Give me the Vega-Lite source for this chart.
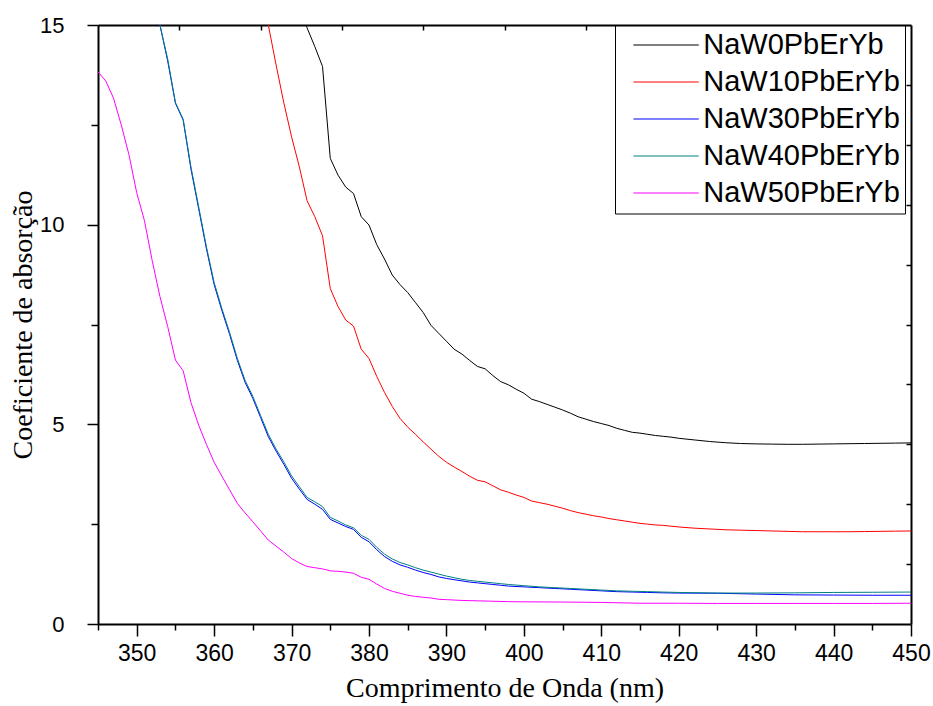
{
  "$schema": "https://vega.github.io/schema/vega-lite/v6.json",
  "width": 813,
  "height": 599,
  "autosize": {"type": "none"},
  "padding": {"left": 98, "top": 25, "right": 22, "bottom": 82},
  "background": "white",
  "config": {
    "view": {"stroke": null},
    "axis": {"grid": false, "domainColor": "black", "tickColor": "black", "labelColor": "black", "titleColor": "black", "domainWidth": 2, "tickWidth": 1.5}
  },
  "datasets": {
    "curvas": [
      {"serie":"NaW0PbErYb","nm":371,"coef":15.5},{"serie":"NaW0PbErYb","nm":372,"coef":14.93},{"serie":"NaW0PbErYb","nm":373,"coef":14.46},{"serie":"NaW0PbErYb","nm":374,"coef":13.96},{"serie":"NaW0PbErYb","nm":375,"coef":11.66},{"serie":"NaW0PbErYb","nm":376,"coef":11.24},{"serie":"NaW0PbErYb","nm":377,"coef":10.94},{"serie":"NaW0PbErYb","nm":378,"coef":10.78},{"serie":"NaW0PbErYb","nm":379,"coef":10.2},{"serie":"NaW0PbErYb","nm":380,"coef":9.99},{"serie":"NaW0PbErYb","nm":381,"coef":9.5},{"serie":"NaW0PbErYb","nm":382,"coef":9.14},{"serie":"NaW0PbErYb","nm":383,"coef":8.74},{"serie":"NaW0PbErYb","nm":384,"coef":8.5},{"serie":"NaW0PbErYb","nm":385,"coef":8.3},{"serie":"NaW0PbErYb","nm":386,"coef":8.05},{"serie":"NaW0PbErYb","nm":387,"coef":7.8},{"serie":"NaW0PbErYb","nm":388,"coef":7.48},{"serie":"NaW0PbErYb","nm":389,"coef":7.28},{"serie":"NaW0PbErYb","nm":390,"coef":7.08},{"serie":"NaW0PbErYb","nm":391,"coef":6.88},{"serie":"NaW0PbErYb","nm":392,"coef":6.76},{"serie":"NaW0PbErYb","nm":393,"coef":6.6},{"serie":"NaW0PbErYb","nm":394,"coef":6.45},{"serie":"NaW0PbErYb","nm":395,"coef":6.39},{"serie":"NaW0PbErYb","nm":396,"coef":6.22},{"serie":"NaW0PbErYb","nm":397,"coef":6.07},{"serie":"NaW0PbErYb","nm":398,"coef":5.99},{"serie":"NaW0PbErYb","nm":399,"coef":5.88},{"serie":"NaW0PbErYb","nm":400,"coef":5.78},{"serie":"NaW0PbErYb","nm":401,"coef":5.63},{"serie":"NaW0PbErYb","nm":402,"coef":5.57},{"serie":"NaW0PbErYb","nm":403,"coef":5.5},{"serie":"NaW0PbErYb","nm":404,"coef":5.43},{"serie":"NaW0PbErYb","nm":405,"coef":5.36},{"serie":"NaW0PbErYb","nm":406,"coef":5.28},{"serie":"NaW0PbErYb","nm":407,"coef":5.19},{"serie":"NaW0PbErYb","nm":408,"coef":5.13},{"serie":"NaW0PbErYb","nm":409,"coef":5.07},{"serie":"NaW0PbErYb","nm":410,"coef":5.02},{"serie":"NaW0PbErYb","nm":411,"coef":4.97},{"serie":"NaW0PbErYb","nm":412,"coef":4.9},{"serie":"NaW0PbErYb","nm":413,"coef":4.85},{"serie":"NaW0PbErYb","nm":414,"coef":4.8},{"serie":"NaW0PbErYb","nm":415,"coef":4.78},{"serie":"NaW0PbErYb","nm":416,"coef":4.75},{"serie":"NaW0PbErYb","nm":417,"coef":4.72},{"serie":"NaW0PbErYb","nm":418,"coef":4.7},{"serie":"NaW0PbErYb","nm":419,"coef":4.68},{"serie":"NaW0PbErYb","nm":420,"coef":4.65},{"serie":"NaW0PbErYb","nm":422,"coef":4.61},{"serie":"NaW0PbErYb","nm":424,"coef":4.57},{"serie":"NaW0PbErYb","nm":426,"coef":4.54},{"serie":"NaW0PbErYb","nm":428,"coef":4.52},{"serie":"NaW0PbErYb","nm":430,"coef":4.51},{"serie":"NaW0PbErYb","nm":432,"coef":4.505},{"serie":"NaW0PbErYb","nm":434,"coef":4.5},{"serie":"NaW0PbErYb","nm":436,"coef":4.5},{"serie":"NaW0PbErYb","nm":438,"coef":4.505},{"serie":"NaW0PbErYb","nm":440,"coef":4.51},{"serie":"NaW0PbErYb","nm":442,"coef":4.515},{"serie":"NaW0PbErYb","nm":444,"coef":4.52},{"serie":"NaW0PbErYb","nm":446,"coef":4.525},{"serie":"NaW0PbErYb","nm":448,"coef":4.53},{"serie":"NaW0PbErYb","nm":450,"coef":4.535},

      {"serie":"NaW10PbErYb","nm":366,"coef":15.6},{"serie":"NaW10PbErYb","nm":367,"coef":15.0},{"serie":"NaW10PbErYb","nm":368,"coef":14.0},{"serie":"NaW10PbErYb","nm":369,"coef":13.05},{"serie":"NaW10PbErYb","nm":370,"coef":12.2},{"serie":"NaW10PbErYb","nm":371,"coef":11.45},{"serie":"NaW10PbErYb","nm":372,"coef":10.6},{"serie":"NaW10PbErYb","nm":373,"coef":10.2},{"serie":"NaW10PbErYb","nm":374,"coef":9.72},{"serie":"NaW10PbErYb","nm":375,"coef":8.4},{"serie":"NaW10PbErYb","nm":376,"coef":7.95},{"serie":"NaW10PbErYb","nm":377,"coef":7.61},{"serie":"NaW10PbErYb","nm":378,"coef":7.46},{"serie":"NaW10PbErYb","nm":379,"coef":6.88},{"serie":"NaW10PbErYb","nm":380,"coef":6.65},{"serie":"NaW10PbErYb","nm":381,"coef":6.2},{"serie":"NaW10PbErYb","nm":382,"coef":5.8},{"serie":"NaW10PbErYb","nm":383,"coef":5.45},{"serie":"NaW10PbErYb","nm":384,"coef":5.15},{"serie":"NaW10PbErYb","nm":385,"coef":4.93},{"serie":"NaW10PbErYb","nm":386,"coef":4.75},{"serie":"NaW10PbErYb","nm":387,"coef":4.56},{"serie":"NaW10PbErYb","nm":388,"coef":4.38},{"serie":"NaW10PbErYb","nm":389,"coef":4.2},{"serie":"NaW10PbErYb","nm":390,"coef":4.05},{"serie":"NaW10PbErYb","nm":391,"coef":3.93},{"serie":"NaW10PbErYb","nm":392,"coef":3.82},{"serie":"NaW10PbErYb","nm":393,"coef":3.7},{"serie":"NaW10PbErYb","nm":394,"coef":3.6},{"serie":"NaW10PbErYb","nm":395,"coef":3.56},{"serie":"NaW10PbErYb","nm":396,"coef":3.46},{"serie":"NaW10PbErYb","nm":397,"coef":3.36},{"serie":"NaW10PbErYb","nm":398,"coef":3.3},{"serie":"NaW10PbErYb","nm":399,"coef":3.23},{"serie":"NaW10PbErYb","nm":400,"coef":3.17},{"serie":"NaW10PbErYb","nm":401,"coef":3.08},{"serie":"NaW10PbErYb","nm":402,"coef":3.04},{"serie":"NaW10PbErYb","nm":403,"coef":3.0},{"serie":"NaW10PbErYb","nm":404,"coef":2.95},{"serie":"NaW10PbErYb","nm":405,"coef":2.9},{"serie":"NaW10PbErYb","nm":406,"coef":2.84},{"serie":"NaW10PbErYb","nm":407,"coef":2.79},{"serie":"NaW10PbErYb","nm":408,"coef":2.75},{"serie":"NaW10PbErYb","nm":409,"coef":2.71},{"serie":"NaW10PbErYb","nm":410,"coef":2.68},{"serie":"NaW10PbErYb","nm":411,"coef":2.64},{"serie":"NaW10PbErYb","nm":412,"coef":2.61},{"serie":"NaW10PbErYb","nm":413,"coef":2.58},{"serie":"NaW10PbErYb","nm":414,"coef":2.55},{"serie":"NaW10PbErYb","nm":415,"coef":2.52},{"serie":"NaW10PbErYb","nm":416,"coef":2.5},{"serie":"NaW10PbErYb","nm":417,"coef":2.48},{"serie":"NaW10PbErYb","nm":418,"coef":2.47},{"serie":"NaW10PbErYb","nm":419,"coef":2.45},{"serie":"NaW10PbErYb","nm":420,"coef":2.43},{"serie":"NaW10PbErYb","nm":422,"coef":2.4},{"serie":"NaW10PbErYb","nm":424,"coef":2.38},{"serie":"NaW10PbErYb","nm":426,"coef":2.36},{"serie":"NaW10PbErYb","nm":428,"coef":2.35},{"serie":"NaW10PbErYb","nm":430,"coef":2.34},{"serie":"NaW10PbErYb","nm":432,"coef":2.33},{"serie":"NaW10PbErYb","nm":434,"coef":2.32},{"serie":"NaW10PbErYb","nm":436,"coef":2.31},{"serie":"NaW10PbErYb","nm":438,"coef":2.31},{"serie":"NaW10PbErYb","nm":440,"coef":2.31},{"serie":"NaW10PbErYb","nm":442,"coef":2.31},{"serie":"NaW10PbErYb","nm":444,"coef":2.315},{"serie":"NaW10PbErYb","nm":446,"coef":2.32},{"serie":"NaW10PbErYb","nm":448,"coef":2.325},{"serie":"NaW10PbErYb","nm":450,"coef":2.33},

      {"serie":"NaW30PbErYb","nm":352,"coef":16.0},{"serie":"NaW30PbErYb","nm":353,"coef":15.0},{"serie":"NaW30PbErYb","nm":354,"coef":14.1},{"serie":"NaW30PbErYb","nm":355,"coef":13.04},{"serie":"NaW30PbErYb","nm":356,"coef":12.62},{"serie":"NaW30PbErYb","nm":357,"coef":11.4},{"serie":"NaW30PbErYb","nm":358,"coef":10.4},{"serie":"NaW30PbErYb","nm":359,"coef":9.4},{"serie":"NaW30PbErYb","nm":360,"coef":8.5},{"serie":"NaW30PbErYb","nm":361,"coef":7.85},{"serie":"NaW30PbErYb","nm":362,"coef":7.25},{"serie":"NaW30PbErYb","nm":363,"coef":6.6},{"serie":"NaW30PbErYb","nm":364,"coef":6.05},{"serie":"NaW30PbErYb","nm":365,"coef":5.65},{"serie":"NaW30PbErYb","nm":366,"coef":5.17},{"serie":"NaW30PbErYb","nm":367,"coef":4.69},{"serie":"NaW30PbErYb","nm":368,"coef":4.33},{"serie":"NaW30PbErYb","nm":369,"coef":4.0},{"serie":"NaW30PbErYb","nm":370,"coef":3.65},{"serie":"NaW30PbErYb","nm":371,"coef":3.38},{"serie":"NaW30PbErYb","nm":372,"coef":3.12},{"serie":"NaW30PbErYb","nm":373,"coef":3.0},{"serie":"NaW30PbErYb","nm":374,"coef":2.87},{"serie":"NaW30PbErYb","nm":375,"coef":2.62},{"serie":"NaW30PbErYb","nm":376,"coef":2.53},{"serie":"NaW30PbErYb","nm":377,"coef":2.44},{"serie":"NaW30PbErYb","nm":378,"coef":2.37},{"serie":"NaW30PbErYb","nm":379,"coef":2.17},{"serie":"NaW30PbErYb","nm":380,"coef":2.06},{"serie":"NaW30PbErYb","nm":381,"coef":1.86},{"serie":"NaW30PbErYb","nm":382,"coef":1.69},{"serie":"NaW30PbErYb","nm":383,"coef":1.57},{"serie":"NaW30PbErYb","nm":384,"coef":1.48},{"serie":"NaW30PbErYb","nm":385,"coef":1.42},{"serie":"NaW30PbErYb","nm":386,"coef":1.35},{"serie":"NaW30PbErYb","nm":387,"coef":1.29},{"serie":"NaW30PbErYb","nm":388,"coef":1.24},{"serie":"NaW30PbErYb","nm":389,"coef":1.18},{"serie":"NaW30PbErYb","nm":390,"coef":1.14},{"serie":"NaW30PbErYb","nm":391,"coef":1.11},{"serie":"NaW30PbErYb","nm":392,"coef":1.08},{"serie":"NaW30PbErYb","nm":393,"coef":1.05},{"serie":"NaW30PbErYb","nm":394,"coef":1.03},{"serie":"NaW30PbErYb","nm":395,"coef":1.01},{"serie":"NaW30PbErYb","nm":396,"coef":0.99},{"serie":"NaW30PbErYb","nm":397,"coef":0.97},{"serie":"NaW30PbErYb","nm":398,"coef":0.95},{"serie":"NaW30PbErYb","nm":400,"coef":0.93},{"serie":"NaW30PbErYb","nm":402,"coef":0.91},{"serie":"NaW30PbErYb","nm":404,"coef":0.89},{"serie":"NaW30PbErYb","nm":406,"coef":0.87},{"serie":"NaW30PbErYb","nm":408,"coef":0.85},{"serie":"NaW30PbErYb","nm":410,"coef":0.83},{"serie":"NaW30PbErYb","nm":412,"coef":0.81},{"serie":"NaW30PbErYb","nm":414,"coef":0.8},{"serie":"NaW30PbErYb","nm":416,"coef":0.79},{"serie":"NaW30PbErYb","nm":418,"coef":0.78},{"serie":"NaW30PbErYb","nm":420,"coef":0.775},{"serie":"NaW30PbErYb","nm":425,"coef":0.77},{"serie":"NaW30PbErYb","nm":430,"coef":0.75},{"serie":"NaW30PbErYb","nm":435,"coef":0.73},{"serie":"NaW30PbErYb","nm":440,"coef":0.725},{"serie":"NaW30PbErYb","nm":445,"coef":0.72},{"serie":"NaW30PbErYb","nm":450,"coef":0.72},

      {"serie":"NaW40PbErYb","nm":352,"coef":16.0},{"serie":"NaW40PbErYb","nm":353,"coef":15.0},{"serie":"NaW40PbErYb","nm":354,"coef":14.15},{"serie":"NaW40PbErYb","nm":355,"coef":13.06},{"serie":"NaW40PbErYb","nm":356,"coef":12.64},{"serie":"NaW40PbErYb","nm":357,"coef":11.45},{"serie":"NaW40PbErYb","nm":358,"coef":10.45},{"serie":"NaW40PbErYb","nm":359,"coef":9.45},{"serie":"NaW40PbErYb","nm":360,"coef":8.55},{"serie":"NaW40PbErYb","nm":361,"coef":7.9},{"serie":"NaW40PbErYb","nm":362,"coef":7.3},{"serie":"NaW40PbErYb","nm":363,"coef":6.65},{"serie":"NaW40PbErYb","nm":364,"coef":6.1},{"serie":"NaW40PbErYb","nm":365,"coef":5.7},{"serie":"NaW40PbErYb","nm":366,"coef":5.22},{"serie":"NaW40PbErYb","nm":367,"coef":4.75},{"serie":"NaW40PbErYb","nm":368,"coef":4.38},{"serie":"NaW40PbErYb","nm":369,"coef":4.06},{"serie":"NaW40PbErYb","nm":370,"coef":3.71},{"serie":"NaW40PbErYb","nm":371,"coef":3.44},{"serie":"NaW40PbErYb","nm":372,"coef":3.17},{"serie":"NaW40PbErYb","nm":373,"coef":3.06},{"serie":"NaW40PbErYb","nm":374,"coef":2.94},{"serie":"NaW40PbErYb","nm":375,"coef":2.67},{"serie":"NaW40PbErYb","nm":376,"coef":2.58},{"serie":"NaW40PbErYb","nm":377,"coef":2.48},{"serie":"NaW40PbErYb","nm":378,"coef":2.41},{"serie":"NaW40PbErYb","nm":379,"coef":2.22},{"serie":"NaW40PbErYb","nm":380,"coef":2.12},{"serie":"NaW40PbErYb","nm":381,"coef":1.92},{"serie":"NaW40PbErYb","nm":382,"coef":1.75},{"serie":"NaW40PbErYb","nm":383,"coef":1.63},{"serie":"NaW40PbErYb","nm":384,"coef":1.54},{"serie":"NaW40PbErYb","nm":385,"coef":1.48},{"serie":"NaW40PbErYb","nm":386,"coef":1.41},{"serie":"NaW40PbErYb","nm":387,"coef":1.35},{"serie":"NaW40PbErYb","nm":388,"coef":1.3},{"serie":"NaW40PbErYb","nm":389,"coef":1.25},{"serie":"NaW40PbErYb","nm":390,"coef":1.2},{"serie":"NaW40PbErYb","nm":391,"coef":1.16},{"serie":"NaW40PbErYb","nm":392,"coef":1.12},{"serie":"NaW40PbErYb","nm":393,"coef":1.09},{"serie":"NaW40PbErYb","nm":394,"coef":1.07},{"serie":"NaW40PbErYb","nm":395,"coef":1.05},{"serie":"NaW40PbErYb","nm":396,"coef":1.03},{"serie":"NaW40PbErYb","nm":397,"coef":1.01},{"serie":"NaW40PbErYb","nm":398,"coef":0.99},{"serie":"NaW40PbErYb","nm":400,"coef":0.96},{"serie":"NaW40PbErYb","nm":402,"coef":0.93},{"serie":"NaW40PbErYb","nm":404,"coef":0.91},{"serie":"NaW40PbErYb","nm":406,"coef":0.89},{"serie":"NaW40PbErYb","nm":408,"coef":0.87},{"serie":"NaW40PbErYb","nm":410,"coef":0.85},{"serie":"NaW40PbErYb","nm":412,"coef":0.83},{"serie":"NaW40PbErYb","nm":414,"coef":0.82},{"serie":"NaW40PbErYb","nm":416,"coef":0.81},{"serie":"NaW40PbErYb","nm":418,"coef":0.8},{"serie":"NaW40PbErYb","nm":420,"coef":0.79},{"serie":"NaW40PbErYb","nm":425,"coef":0.775},{"serie":"NaW40PbErYb","nm":430,"coef":0.775},{"serie":"NaW40PbErYb","nm":435,"coef":0.78},{"serie":"NaW40PbErYb","nm":440,"coef":0.79},{"serie":"NaW40PbErYb","nm":445,"coef":0.795},{"serie":"NaW40PbErYb","nm":450,"coef":0.8},

      {"serie":"NaW50PbErYb","nm":345,"coef":13.83},{"serie":"NaW50PbErYb","nm":346,"coef":13.6},{"serie":"NaW50PbErYb","nm":347,"coef":13.17},{"serie":"NaW50PbErYb","nm":348,"coef":12.5},{"serie":"NaW50PbErYb","nm":349,"coef":11.75},{"serie":"NaW50PbErYb","nm":350,"coef":10.8},{"serie":"NaW50PbErYb","nm":351,"coef":10.1},{"serie":"NaW50PbErYb","nm":352,"coef":9.1},{"serie":"NaW50PbErYb","nm":353,"coef":8.2},{"serie":"NaW50PbErYb","nm":354,"coef":7.45},{"serie":"NaW50PbErYb","nm":355,"coef":6.61},{"serie":"NaW50PbErYb","nm":356,"coef":6.34},{"serie":"NaW50PbErYb","nm":357,"coef":5.55},{"serie":"NaW50PbErYb","nm":358,"coef":4.98},{"serie":"NaW50PbErYb","nm":359,"coef":4.5},{"serie":"NaW50PbErYb","nm":360,"coef":4.05},{"serie":"NaW50PbErYb","nm":361,"coef":3.7},{"serie":"NaW50PbErYb","nm":362,"coef":3.36},{"serie":"NaW50PbErYb","nm":363,"coef":3.02},{"serie":"NaW50PbErYb","nm":364,"coef":2.78},{"serie":"NaW50PbErYb","nm":365,"coef":2.56},{"serie":"NaW50PbErYb","nm":366,"coef":2.33},{"serie":"NaW50PbErYb","nm":367,"coef":2.1},{"serie":"NaW50PbErYb","nm":368,"coef":1.95},{"serie":"NaW50PbErYb","nm":369,"coef":1.8},{"serie":"NaW50PbErYb","nm":370,"coef":1.64},{"serie":"NaW50PbErYb","nm":371,"coef":1.53},{"serie":"NaW50PbErYb","nm":372,"coef":1.44},{"serie":"NaW50PbErYb","nm":373,"coef":1.41},{"serie":"NaW50PbErYb","nm":374,"coef":1.38},{"serie":"NaW50PbErYb","nm":375,"coef":1.33},{"serie":"NaW50PbErYb","nm":376,"coef":1.32},{"serie":"NaW50PbErYb","nm":377,"coef":1.3},{"serie":"NaW50PbErYb","nm":378,"coef":1.27},{"serie":"NaW50PbErYb","nm":379,"coef":1.17},{"serie":"NaW50PbErYb","nm":380,"coef":1.12},{"serie":"NaW50PbErYb","nm":381,"coef":1.0},{"serie":"NaW50PbErYb","nm":382,"coef":0.89},{"serie":"NaW50PbErYb","nm":383,"coef":0.82},{"serie":"NaW50PbErYb","nm":384,"coef":0.77},{"serie":"NaW50PbErYb","nm":385,"coef":0.72},{"serie":"NaW50PbErYb","nm":386,"coef":0.69},{"serie":"NaW50PbErYb","nm":387,"coef":0.67},{"serie":"NaW50PbErYb","nm":388,"coef":0.65},{"serie":"NaW50PbErYb","nm":389,"coef":0.62},{"serie":"NaW50PbErYb","nm":390,"coef":0.61},{"serie":"NaW50PbErYb","nm":392,"coef":0.59},{"serie":"NaW50PbErYb","nm":394,"coef":0.58},{"serie":"NaW50PbErYb","nm":396,"coef":0.57},{"serie":"NaW50PbErYb","nm":398,"coef":0.56},{"serie":"NaW50PbErYb","nm":400,"coef":0.555},{"serie":"NaW50PbErYb","nm":405,"coef":0.55},{"serie":"NaW50PbErYb","nm":410,"coef":0.54},{"serie":"NaW50PbErYb","nm":415,"coef":0.52},{"serie":"NaW50PbErYb","nm":420,"coef":0.52},{"serie":"NaW50PbErYb","nm":425,"coef":0.515},{"serie":"NaW50PbErYb","nm":430,"coef":0.515},{"serie":"NaW50PbErYb","nm":435,"coef":0.515},{"serie":"NaW50PbErYb","nm":440,"coef":0.515},{"serie":"NaW50PbErYb","nm":445,"coef":0.515},{"serie":"NaW50PbErYb","nm":450,"coef":0.52}
    ],
    "moldura": [{"nm": 345, "coef": 0}]
  },
  "layer": [
    {
      "data": {"name": "curvas"},
      "mark": {"type": "line", "clip": true, "strokeWidth": 1},
      "encoding": {
        "x": {
          "field": "nm", "type": "quantitative",
          "scale": {"domain": [345, 450], "nice": false, "zero": false},
          "axis": {
            "orient": "bottom",
            "title": "Comprimento de Onda (nm)",
            "titleFont": "Liberation Serif", "titleFontSize": 28, "titleFontWeight": "normal", "titlePadding": 9,
            "values": [345,350,355,360,365,370,375,380,385,390,395,400,405,410,415,420,425,430,435,440,445,450],
            "labelExpr": "datum.value % 10 === 0 ? datum.label : ''",
            "labelFont": "Liberation Sans", "labelFontSize": 23, "labelPadding": 6,
            "tickSize": {"condition": {"test": "datum.value % 10 === 0", "value": 12}, "value": 6},
            "labelFlush": false, "labelOverlap": false
          }
        },
        "y": {
          "field": "coef", "type": "quantitative",
          "scale": {"domain": [0, 15], "nice": false},
          "axis": {
            "orient": "left",
            "title": "Coeficiente de absorção",
            "titleFont": "Liberation Serif", "titleFontSize": 28, "titleFontWeight": "normal", "titlePadding": 2,
            "values": [0,2.5,5,7.5,10,12.5,15],
            "labelExpr": "datum.value % 5 === 0 ? datum.label : ''",
            "labelFont": "Liberation Sans", "labelFontSize": 22, "labelPadding": 23,
            "tickSize": {"condition": {"test": "datum.value % 5 === 0", "value": 11}, "value": 7},
            "labelFlush": false, "labelOverlap": false
          }
        },
        "color": {
          "field": "serie", "type": "nominal",
          "scale": {
            "domain": ["NaW0PbErYb","NaW10PbErYb","NaW30PbErYb","NaW40PbErYb","NaW50PbErYb"],
            "range": ["#000000","#FF0000","#0000FF","#008080","#FF00FF"]
          },
          "legend": {
            "orient": "none", "legendX": 517, "legendY": 0.5,
            "title": null,
            "strokeColor": "black", "fillColor": "white",
            "padding": 5,
            "symbolType": "M-3,0H3", "symbolSize": 475, "symbolStrokeWidth": 1, "symbolOffset": 31.6,
            "labelFont": "Liberation Sans", "labelFontSize": 29, "labelColor": "black", "labelOffset": 22.6, "labelLimit": 0,
            "rowPadding": 7
          }
        }
      }
    },
    {
      "data": {"name": "moldura"},
      "mark": {"type": "point", "opacity": 0},
      "encoding": {
        "x": {
          "field": "nm", "type": "quantitative",
          "axis": {"orient": "top", "title": null, "labels": false, "tickSize": -5,
                   "values": [355.5,366,376.5,387,397.5,408,418.5,429,439.5]}
        },
        "y": {
          "field": "coef", "type": "quantitative",
          "axis": {"orient": "right", "title": null, "labels": false, "tickSize": -5,
                   "values": [1.5,3,4.5,6,7.5,9,10.5,12,13.5]}
        }
      }
    }
  ],
  "resolve": {"axis": {"x": "independent", "y": "independent"}}
}
